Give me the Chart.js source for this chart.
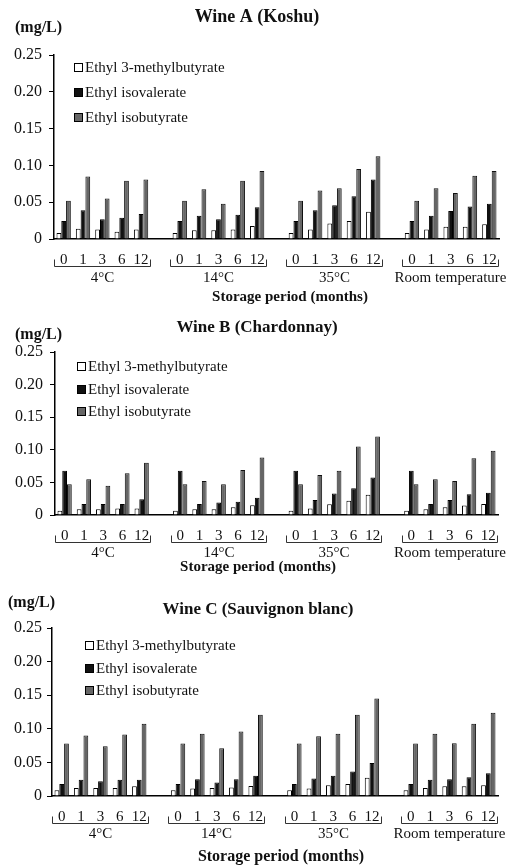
<!DOCTYPE html>
<html><head><meta charset="utf-8">
<script src="https://cdn.jsdelivr.net/npm/chart.js@4.4.0/dist/chart.umd.min.js"></script>
<style>
html,body{margin:0;padding:0;background:#fff;}
#wrap{position:relative;width:524px;height:866px;overflow:hidden;}
.panel{position:absolute;left:0;width:524px;}
canvas{display:block;}
</style></head><body>
<div id="wrap">
<div class="panel" style="top:0;height:305px"><canvas id="cA" width="524" height="305"></canvas></div>
<div class="panel" style="top:305px;height:280px"><canvas id="cB" width="524" height="280"></canvas></div>
<div class="panel" style="top:585px;height:281px"><canvas id="cC" width="524" height="281"></canvas></div>
</div>
<script>
// ---------- DATA ----------
const months = ['0', '1', '3', '6', '12'];
const temperatures = ['4°C', '14°C', '35°C', 'Room temperature'];
const seriesNames = ['Ethyl 3-methylbutyrate', 'Ethyl isovalerate', 'Ethyl isobutyrate'];
const yTickLabels = ['0', '0.05', '0.10', '0.15', '0.20', '0.25'];

// Wine A (Koshu): 4°C, 14°C, 35°C, Room temperature x months 0,1,3,6,12
const koshuMethylbutyrate = [0.008, 0.014, 0.013, 0.010, 0.013,  0.008, 0.012, 0.012, 0.013, 0.0175,  0.008, 0.013, 0.021, 0.0245, 0.037,  0.008, 0.013, 0.0165, 0.0165, 0.020];
const koshuIsovalerate    = [0.0245, 0.039, 0.027, 0.029, 0.034,  0.0245, 0.0315, 0.027, 0.033, 0.043,  0.0245, 0.039, 0.046, 0.058, 0.081,  0.0245, 0.0315, 0.038, 0.044, 0.048];
const koshuIsobutyrate    = [0.052, 0.085, 0.055, 0.079, 0.081,  0.052, 0.0675, 0.048, 0.079, 0.0925,  0.052, 0.066, 0.069, 0.095, 0.1125,  0.052, 0.069, 0.0625, 0.086, 0.0925];

// Wine B (Chardonnay)
const chardMethylbutyrate = [0.0067, 0.0087, 0.0087, 0.010, 0.010,  0.0067, 0.0087, 0.0087, 0.012, 0.015,  0.0067, 0.010, 0.0165, 0.022, 0.031,  0.0067, 0.0087, 0.012, 0.0145, 0.017];
const chardIsovalerate    = [0.068, 0.017, 0.017, 0.017, 0.024,  0.068, 0.017, 0.019, 0.0205, 0.0265,  0.068, 0.023, 0.033, 0.041, 0.0575,  0.068, 0.017, 0.023, 0.032, 0.034];
const chardIsobutyrate    = [0.047, 0.055, 0.045, 0.064, 0.080,  0.047, 0.052, 0.047, 0.069, 0.088,  0.047, 0.0615, 0.068, 0.105, 0.1205,  0.047, 0.055, 0.052, 0.087, 0.0985];

// Wine C (Sauvignon blanc)
const sauvMethylbutyrate  = [0.0084, 0.012, 0.012, 0.012, 0.0145,  0.0084, 0.011, 0.012, 0.0125, 0.015,  0.0084, 0.011, 0.016, 0.018, 0.027,  0.0084, 0.012, 0.0145, 0.0145, 0.016];
const sauvIsovalerate     = [0.018, 0.024, 0.022, 0.024, 0.024,  0.018, 0.025, 0.020, 0.025, 0.030,  0.018, 0.026, 0.030, 0.0365, 0.049,  0.018, 0.024, 0.025, 0.028, 0.034];
const sauvIsobutyrate     = [0.078, 0.090, 0.074, 0.0915, 0.1075,  0.078, 0.0925, 0.071, 0.096, 0.121,  0.078, 0.089, 0.0925, 0.121, 0.145,  0.078, 0.0925, 0.0785, 0.1075, 0.124];

// ---------- BUILD ----------
const FONT = '"Liberation Serif", "Times New Roman", serif';
const fills = ['#ffffff', '#111111', '#666666'];
const strokes = ['#000000', '#000000', '#111111'];

function buildLabels() {
  const out = [];
  temperatures.forEach((t, g) => {
    months.forEach(m => out.push(m));
    if (g < temperatures.length - 1) out.push('');
  });
  return out;
}
function expand(arr) {
  const out = [];
  temperatures.forEach((t, g) => {
    for (let k = 0; k < months.length; k++) out.push(arr[g * months.length + k]);
    if (g < temperatures.length - 1) out.push(null);
  });
  return out;
}

const decoPlugin = {
  id: 'deco',
  afterDraw(chart, args, o) {
    const ctx = chart.ctx;
    const xs = chart.scales.x;
    const y0 = chart.chartArea.bottom;
    ctx.save();
    ctx.fillStyle = '#111';
    ctx.textBaseline = 'middle';
    // title
    ctx.font = 'bold ' + o.titleSize + 'px ' + FONT;
    ctx.textAlign = 'center';
    ctx.fillText(o.title, o.titleX, o.titleY);
    // unit
    ctx.font = 'bold 16px ' + FONT;
    ctx.textAlign = 'left';
    ctx.fillText('(mg/L)', o.unitX, o.unitY);
    // legend
    chart.data.datasets.forEach((ds, i) => {
      const yy = Math.round(o.legendY + i * o.legendGap);
      ctx.fillStyle = ds.backgroundColor;
      ctx.fillRect(o.legendX, yy - 4, 8, 8);
      ctx.strokeStyle = '#000';
      ctx.lineWidth = 1;
      ctx.strokeRect(o.legendX + 0.5, yy - 3.5, 8, 8);
      ctx.fillStyle = '#111';
      ctx.font = '15px ' + FONT;
      ctx.fillText(ds.label, o.legendX + 11, yy + 1);
    });
    // group brackets + labels
    const n = months.length;
    const w = xs.getPixelForValue(1) - xs.getPixelForValue(0);
    ctx.font = '15px ' + FONT;
    ctx.textAlign = 'center';
    temperatures.forEach((t, g) => {
      const i0 = g * (n + 1), i1 = i0 + n - 1;
      const l = Math.round(xs.getPixelForValue(i0) - w / 2) + 0.5;
      const r = Math.round(xs.getPixelForValue(i1) + w / 2) - 0.5;
      const by = Math.round(y0 + o.bracketDy) + 0.5;
      ctx.strokeStyle = '#333';
      ctx.lineWidth = 1;
      ctx.beginPath();
      ctx.moveTo(l, by - 7); ctx.lineTo(l, by); ctx.lineTo(r, by); ctx.lineTo(r, by - 7);
      ctx.stroke();
      ctx.fillStyle = '#111';
      ctx.fillText(t, (l + r) / 2, y0 + o.groupDy);
    });
    // x title
    ctx.font = 'bold ' + o.xTitleSize + 'px ' + FONT;
    ctx.fillText('Storage period (months)', o.xTitleX, y0 + o.xTitleDy);
    ctx.restore();
  }
};

function makeChart(id, series, deco) {
  const canvas = document.getElementById(id);
  const H = canvas.height;
  return new Chart(canvas, {
    type: 'bar',
    data: {
      labels: buildLabels(),
      datasets: series.map((s, i) => ({
        label: seriesNames[i],
        data: expand(s),
        backgroundColor: fills[i],
        borderColor: strokes[i],
        borderWidth: 1,
        borderSkipped: 'bottom',
        categoryPercentage: 0.74,
        barPercentage: 1.0
      }))
    },
    options: {
      responsive: false,
      animation: false,
      devicePixelRatio: 1,
      layout: { padding: { left: 0, right: 524 - deco.areaRight, top: deco.areaTop, bottom: 0 } },
      plugins: { legend: { display: false }, tooltip: { enabled: false }, deco: deco },
      scales: {
        x: {
          type: 'category',
          grid: { display: false },
          border: { display: true, color: '#000', width: 1.5 },
          ticks: { color: '#111', font: { family: FONT, size: 15 }, padding: deco.xTickPad, autoSkip: false, maxRotation: 0, minRotation: 0 },
          afterFit: s => { s.height = H - deco.areaBottom; }
        },
        y: {
          min: 0, max: 0.25,
          ticks: {
            stepSize: 0.05,
            color: '#111',
            font: { family: FONT, size: 16 },
            padding: deco.yTickPad,
            callback: v => yTickLabels[Math.round(v / 0.05)]
          },
          grid: { display: true, drawOnChartArea: false, drawTicks: true, tickLength: 5, color: '#000', lineWidth: 1 },
          border: { display: true, color: '#000', width: 1.5 },
          afterFit: s => { s.width = deco.areaLeft; }
        }
      }
    },
    plugins: [decoPlugin]
  });
}

makeChart('cA', [koshuMethylbutyrate, koshuIsovalerate, koshuIsobutyrate], {
  title: 'Wine A (Koshu)', titleSize: 18, titleX: 257, titleY: 17,
  unitX: 15, unitY: 28,
  areaLeft: 54, areaRight: 499, areaTop: 55, areaBottom: 239,
  xTickPad: 4, yTickPad: 7,
  legendX: 74, legendY: 67, legendGap: 25,
  bracketDy: 27, groupDy: 39, xTitleX: 290, xTitleDy: 58, xTitleSize: 15
});
makeChart('cB', [chardMethylbutyrate, chardIsovalerate, chardIsobutyrate], {
  title: 'Wine B (Chardonnay)', titleSize: 17, titleX: 257, titleY: 23,
  unitX: 15, unitY: 30,
  areaLeft: 55, areaRight: 498, areaTop: 47, areaBottom: 210,
  xTickPad: 4, yTickPad: 7,
  legendX: 77, legendY: 61, legendGap: 22.5,
  bracketDy: 27, groupDy: 38, xTitleX: 258, xTitleDy: 52, xTitleSize: 15
});
makeChart('cC', [sauvMethylbutyrate, sauvIsovalerate, sauvIsobutyrate], {
  title: 'Wine C (Sauvignon blanc)', titleSize: 17, titleX: 258, titleY: 25,
  unitX: 8, unitY: 18,
  areaLeft: 52, areaRight: 498, areaTop: 43, areaBottom: 211,
  xTickPad: 4, yTickPad: 5,
  legendX: 85, legendY: 60, legendGap: 22.5,
  bracketDy: 27, groupDy: 38, xTitleX: 281, xTitleDy: 61, xTitleSize: 16
});
</script>
</body></html>
